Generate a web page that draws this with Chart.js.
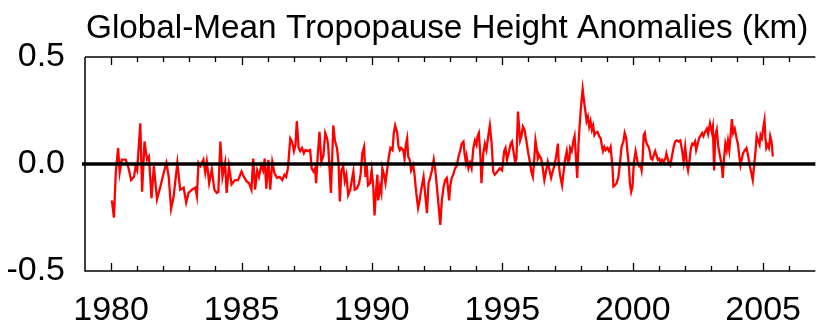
<!DOCTYPE html>
<html>
<head>
<meta charset="utf-8">
<script src="https://cdn.jsdelivr.net/npm/chart.js@4"></script>
<style>
  html, body { margin: 0; padding: 0; background: #fff; }
  canvas { display: block; }
</style>
</head>
<body>
<canvas id="c" width="820" height="326"></canvas>
<script>
const titleText = 'Global-Mean Tropopause Height Anomalies (km)';

const xLabelYears = [1980, 1985, 1990, 1995, 2000, 2005];
const yTickValues = [0.5, 0.0, -0.5];

const years = [
  1980.03, 1980.11, 1980.18, 1980.27, 1980.33, 1980.41, 1980.56, 1980.66, 1980.77, 1980.88, 1980.94,
  1981.00, 1981.12, 1981.19, 1981.28, 1981.38, 1981.45, 1981.55, 1981.64, 1981.76, 1981.89,
  1982.02, 1982.12, 1982.21, 1982.30, 1982.40, 1982.54, 1982.65, 1982.78, 1982.88, 1982.97,
  1983.10, 1983.23, 1983.29, 1983.35, 1983.42, 1983.54, 1983.61, 1983.67, 1983.76, 1983.86, 1983.96,
  1984.05, 1984.11, 1984.19, 1984.27, 1984.37, 1984.43, 1984.52, 1984.62, 1984.75, 1984.87,
  1985.00, 1985.09, 1985.19, 1985.29, 1985.38, 1985.45, 1985.52, 1985.60, 1985.67, 1985.76, 1985.83, 1985.89, 1985.95,
  1986.03, 1986.10, 1986.18, 1986.27, 1986.36, 1986.46, 1986.56, 1986.65, 1986.71, 1986.78, 1986.87, 1986.94,
  1987.01, 1987.07, 1987.12, 1987.19, 1987.25, 1987.32, 1987.39, 1987.45, 1987.54, 1987.63, 1987.69, 1987.76, 1987.82, 1987.86, 1987.92, 1987.99,
  1988.06, 1988.14, 1988.21, 1988.28, 1988.32, 1988.43, 1988.52, 1988.58, 1988.66, 1988.72, 1988.77, 1988.83, 1988.90, 1988.96,
  1989.02, 1989.09, 1989.17, 1989.23, 1989.29, 1989.34, 1989.42, 1989.51, 1989.57, 1989.63, 1989.70, 1989.75, 1989.80, 1989.85, 1989.93, 1989.99,
  1990.05, 1990.10, 1990.16, 1990.21, 1990.24, 1990.31, 1990.36, 1990.40, 1990.46, 1990.52, 1990.59, 1990.65, 1990.71, 1990.79, 1990.84, 1990.89, 1990.97,
  1991.02, 1991.07, 1991.12, 1991.20, 1991.25, 1991.30, 1991.35, 1991.39, 1991.45, 1991.50, 1991.58, 1991.63, 1991.70, 1991.77, 1991.83, 1991.89, 1991.98,
  1992.11, 1992.17, 1992.24, 1992.30, 1992.37, 1992.43, 1992.49, 1992.56, 1992.62, 1992.68, 1992.75, 1992.81, 1992.87, 1992.91, 1992.96,
  1993.00, 1993.06, 1993.13, 1993.19, 1993.25, 1993.32, 1993.38, 1993.44, 1993.51, 1993.55, 1993.60, 1993.63, 1993.70, 1993.76, 1993.82, 1993.89, 1993.95,
  1994.01, 1994.05, 1994.10, 1994.16, 1994.20, 1994.27, 1994.33, 1994.39, 1994.46, 1994.52, 1994.59, 1994.65, 1994.71, 1994.81, 1994.90, 1994.99,
  1995.07, 1995.12, 1995.18, 1995.24, 1995.32, 1995.37, 1995.42, 1995.49, 1995.54, 1995.60, 1995.68, 1995.73, 1995.79, 1995.85, 1995.92, 1995.98,
  1996.04, 1996.11, 1996.17, 1996.23, 1996.27, 1996.33, 1996.36, 1996.42, 1996.49, 1996.55, 1996.61, 1996.68, 1996.74, 1996.81, 1996.87, 1996.93,
  1997.00, 1997.06, 1997.13, 1997.16, 1997.21, 1997.29, 1997.34, 1997.41, 1997.47, 1997.52, 1997.57, 1997.60, 1997.66, 1997.72, 1997.77, 1997.82, 1997.87, 1997.92, 1997.97,
  1998.02, 1998.08, 1998.14, 1998.18, 1998.23, 1998.28, 1998.33, 1998.38, 1998.43, 1998.48, 1998.53, 1998.58, 1998.65, 1998.71, 1998.77, 1998.81, 1998.86, 1998.91, 1998.96,
  1999.03, 1999.09, 1999.15, 1999.22, 1999.26, 1999.31, 1999.38, 1999.45, 1999.51, 1999.57, 1999.64, 1999.69, 1999.75, 1999.79, 1999.85, 1999.89, 1999.94, 1999.99,
  2000.04, 2000.11, 2000.14, 2000.19, 2000.25, 2000.30, 2000.34, 2000.37, 2000.42, 2000.46, 2000.50, 2000.55, 2000.61, 2000.65, 2000.70, 2000.75, 2000.80, 2000.86, 2000.91, 2000.96,
  2001.01, 2001.06, 2001.12, 2001.18, 2001.25, 2001.29, 2001.34, 2001.39, 2001.44, 2001.50, 2001.57, 2001.63, 2001.69, 2001.76, 2001.82, 2001.89, 2001.95,
  2002.01, 2002.08, 2002.12, 2002.17, 2002.23, 2002.28, 2002.33, 2002.39, 2002.43, 2002.48, 2002.54, 2002.61, 2002.66, 2002.71, 2002.77, 2002.84, 2002.89, 2002.96,
  2003.03, 2003.07, 2003.12, 2003.16, 2003.22, 2003.28, 2003.34, 2003.41, 2003.45, 2003.50, 2003.55, 2003.60, 2003.65, 2003.70, 2003.75, 2003.80, 2003.85, 2003.91, 2003.98,
  2004.03, 2004.08, 2004.13, 2004.18, 2004.23, 2004.30, 2004.36, 2004.42, 2004.49, 2004.55, 2004.60, 2004.65, 2004.70, 2004.75, 2004.80, 2004.86, 2004.90, 2004.95,
  2005.01, 2005.05, 2005.08, 2005.12, 2005.17, 2005.22, 2005.27, 2005.32, 2005.37
];

const anomalies = [
  -0.17, -0.25, -0.04, 0.075, -0.04, 0.02, 0.02, -0.015, -0.075, -0.06, -0.01,
  -0.03, 0.19, -0.13, 0.105, 0.02, 0.035, -0.16, -0.01, -0.165, -0.105,
  -0.04, 0.005, -0.06, -0.21, -0.15, 0.005, -0.12, -0.11, -0.18, -0.135,
  -0.12, -0.11, -0.15, 0.005, -0.01, 0.02, -0.04, 0.01, -0.09, -0.025, -0.12,
  -0.135, -0.13, 0.105, -0.06, 0.005, -0.135, -0.01, -0.095, -0.075, -0.075,
  -0.035, -0.06, -0.08, -0.09, -0.12, 0.025, -0.12, -0.03, -0.06, -0.005, -0.03, 0.025, -0.115,
  0.02, -0.12, 0.01, -0.045, -0.065, -0.06, -0.075, -0.05, -0.06, -0.02, 0.12, 0.105,
  0.06, 0.09, 0.2, 0.075, 0.06, 0.075, 0.05, 0.065, 0.06, 0.065, -0.02, -0.035, -0.02, -0.09, 0.035, 0.15,
  0.01, 0.04, 0.145, 0.12, 0.09, -0.135, 0.18, 0.11, 0.075, 0.005, -0.175, -0.03, -0.01, -0.08,
  -0.05, -0.145, -0.12, -0.075, -0.035, -0.12, -0.115, -0.09, -0.045, 0.05, 0.08, -0.06, -0.005, -0.1, -0.09, -0.03,
  -0.105, -0.24, -0.12, -0.05, -0.17, -0.105, -0.135, -0.02, -0.05, -0.09, -0.02, 0.035, 0.075, 0.065, 0.145, 0.18, 0.145,
  0.08, 0.065, 0.075, 0.065, 0.025, 0.09, 0.12, 0.035, 0.02, -0.03, -0.005, -0.045, -0.135, -0.205, -0.17, -0.12, -0.06,
  -0.23, -0.09, -0.06, -0.03, 0.02, -0.03, -0.105, -0.2, -0.285, -0.17, -0.105, -0.075, -0.065, -0.105, -0.17,
  -0.105, -0.065, -0.045, -0.02, -0.01, 0.035, 0.06, 0.095, 0.105, 0.05, 0.01, 0.035, -0.02, 0.005, -0.02, 0.075, 0.11,
  0.09, 0.13, 0.145, 0.035, -0.09, 0.05, 0.095, 0.065, 0.13, 0.18, 0.095, -0.035, -0.05, -0.035, -0.02, -0.03,
  0.06, 0.075, 0.02, 0.05, 0.095, 0.105, 0.065, 0.01, 0.025, 0.245, 0.11, 0.13, 0.175, 0.16, 0.11, 0.06,
  0.02, -0.035, -0.06, 0.035, 0.11, 0.06, 0.025, 0.04, 0.025, -0.02, -0.075, -0.03, 0.01, -0.03, -0.065, -0.035,
  -0.005, 0.035, 0.095, 0.005, -0.05, -0.1, -0.045, 0.025, 0.06, 0.01, 0.02, 0.075, 0.06, 0.105, 0.13, 0.035, -0.065, 0.095, 0.19,
  0.275, 0.35, 0.285, 0.25, 0.2, 0.22, 0.175, 0.2, 0.16, 0.18, 0.135, 0.145, 0.15, 0.13, 0.12, 0.09, 0.06, 0.08, 0.065,
  0.075, 0.06, 0.08, -0.01, -0.105, -0.1, -0.09, -0.06, 0.005, 0.08, 0.105, 0.145, 0.12, 0.065, -0.005, -0.09, -0.13, -0.105,
  0.005, 0.06, 0.04, 0.005, -0.01, -0.005, -0.03, 0.005, 0.135, 0.145, 0.11, 0.09, 0.08, 0.06, 0.025, 0.02, 0.04, 0.06, 0.04, 0.02,
  0.025, 0.01, 0.02, 0.01, 0.025, 0.05, 0.025, 0.005, -0.005, 0.035, 0.08, 0.105, 0.11, 0.105, 0.11, 0.065, 0.01,
  0.08, -0.005, -0.03, 0.01, 0.075, 0.095, 0.09, 0.105, 0.065, 0.09, 0.12, 0.135, 0.145, 0.13, 0.15, 0.165, 0.14, 0.19,
  0.15, 0.175, -0.03, 0.13, 0.16, 0.08, 0.04, -0.005, -0.065, 0.025, 0.095, 0.065, 0.11, 0.065, 0.13, 0.21, 0.145, 0.165, 0.12,
  0.095, 0.04, -0.005, 0.025, 0.05, 0.065, 0.075, 0.04, -0.01, -0.045, -0.075, -0.01, 0.05, 0.13, 0.11, 0.09, 0.135, 0.12,
  0.175, 0.205, 0.13, 0.075, 0.09, 0.075, 0.13, 0.105, 0.035
];

const FONT = '"Liberation Sans", Arial, sans-serif';

const framePlugin = {
  id: 'frame',
  afterDatasetsDraw(chart) {
    const { ctx, chartArea: a, scales: { x, y } } = chart;
    ctx.save();
    ctx.strokeStyle = '#000';
    ctx.lineCap = 'butt';
    // zero reference line
    const y0 = y.getPixelForValue(0);
    ctx.lineWidth = 3.5;
    ctx.beginPath();
    ctx.moveTo(a.left - 3, y0);
    ctx.lineTo(a.right, y0);
    ctx.stroke();
    // frame: left, bottom, top
    ctx.lineWidth = 1.5;
    ctx.beginPath();
    ctx.moveTo(a.left, a.top);
    ctx.lineTo(a.right, a.top);
    ctx.moveTo(a.left, a.top);
    ctx.lineTo(a.left, a.bottom);
    ctx.lineTo(a.right, a.bottom);
    ctx.stroke();
    // inward year ticks on bottom and top
    ctx.lineWidth = 1.3;
    ctx.beginPath();
    for (let yr = Math.ceil(x.min) + 1; yr < x.max; yr++) {
      const px = Math.round(x.getPixelForValue(yr)) + 0.5;
      const len = xLabelYears.includes(yr) ? 8 : 5;
      ctx.moveTo(px, a.bottom);
      ctx.lineTo(px, a.bottom - len);
      ctx.moveTo(px, a.top);
      ctx.lineTo(px, a.top + len);
    }
    ctx.stroke();
    ctx.restore();
  },
  afterDraw(chart) {
    const { ctx } = chart;
    ctx.save();
    ctx.fillStyle = '#000';
    ctx.font = '33.3px ' + FONT;
    ctx.textAlign = 'left';
    ctx.textBaseline = 'alphabetic';
    ctx.fillText(titleText, 86, 37.5);
    ctx.restore();
  }
};

new Chart(document.getElementById('c'), {
  type: 'line',
  data: {
    datasets: [{
      data: years.map((yr, i) => ({ x: yr, y: anomalies[i] })),
      borderColor: 'rgb(255,0,0)',
      borderWidth: 2.3,
      pointRadius: 0,
      tension: 0,
      fill: false
    }]
  },
  options: {
    responsive: false,
    animation: false,
    devicePixelRatio: 1,
    layout: { padding: { top: 57, left: 0, right: 0, bottom: 0 } },
    plugins: { legend: { display: false }, tooltip: { enabled: false }, title: { display: false } },
    scales: {
      x: {
        type: 'linear',
        min: 1979,
        max: 2007,
        grid: { display: false, drawTicks: false },
        border: { display: false },
        afterBuildTicks: s => { s.ticks = xLabelYears.map(v => ({ value: v })); },
        afterFit: s => { s.height = 55; },
        ticks: {
          autoSkip: false,
          maxRotation: 0,
          padding: 19,
          color: '#000',
          font: { family: FONT, size: 34 },
          callback: v => String(v)
        }
      },
      y: {
        type: 'linear',
        min: -0.5,
        max: 0.5,
        grid: { display: false, drawTicks: false },
        border: { display: false },
        afterBuildTicks: s => { s.ticks = yTickValues.map(v => ({ value: v })); },
        afterFit: s => { s.width = 85; },
        ticks: {
          autoSkip: false,
          padding: 20,
          color: '#000',
          font: { family: FONT, size: 34 },
          callback: v => Number(v).toFixed(1)
        }
      }
    }
  },
  plugins: [framePlugin]
});
</script>
</body>
</html>
